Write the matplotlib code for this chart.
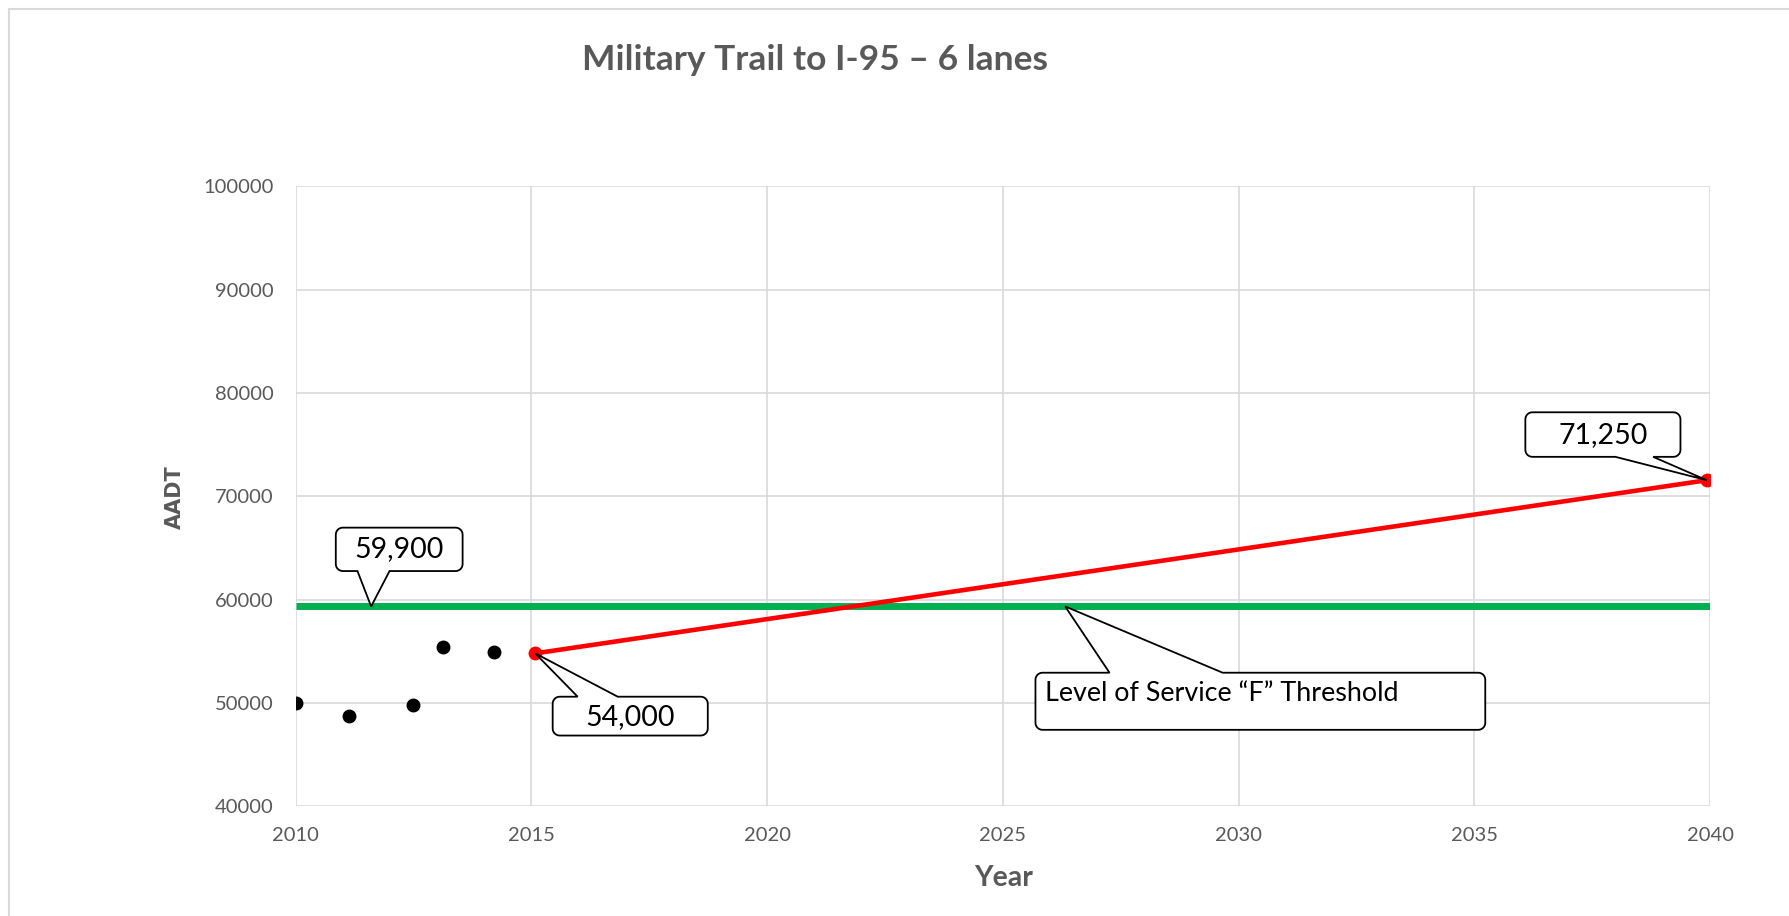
import numpy as np
import matplotlib
matplotlib.use('Agg')
import matplotlib.pyplot as plt
from matplotlib.path import Path
from matplotlib.patches import PathPatch, Rectangle

# Historic counts (black dots)
hist_years = [2010.0, 2011.14, 2012.49, 2013.12, 2014.21]
hist_aadt = [50000, 48700, 49800, 55450, 54900]

# Projection (red line)
proj_years = [2015.08, 2039.93]
proj_aadt = [54800, 71550]

# LOS "F" threshold (green line)
thresh_years = [2010, 2040]
thresh_aadt = [59340, 59340]

callout_text = ["59,900", "54,000", "71,250", "Level of Service \u201cF\u201d Threshold"]

GRAY = '#595959'
GRID = '#d9d9d9'
plt.rcParams['font.family'] = ['Lato', 'DejaVu Sans']

fig = plt.figure(figsize=(17.9, 9.16), dpi=100)
ax = fig.add_axes([0.1652, 0.1197, 0.9554 - 0.1652, 0.7968 - 0.1197])

ax.set_xlim(2010, 2040)
ax.set_ylim(40000, 100000)
ax.set_xticks(np.arange(2010, 2041, 5))
ax.set_yticks(np.arange(40000, 100001, 10000))
ax.grid(True, color=GRID, linewidth=1.2, zorder=0)
for s in ax.spines.values():
    s.set_visible(False)
ax.tick_params(length=0, labelsize=14.5, labelcolor=GRAY)
ax.tick_params(axis='y', pad=16)
ax.tick_params(axis='x', pad=15)

ax.plot(thresh_years, thresh_aadt, color='#00b050', linewidth=5, zorder=3, solid_capstyle='butt')
ax.plot(proj_years, proj_aadt, color='#ff0000', linewidth=3.3, marker='o', markersize=9, zorder=4)
ax.plot(hist_years, hist_aadt, linestyle='none', marker='o', color='black', markersize=9, zorder=4)


def callout(box, base, side, tip, r=7):
    # rounded box with a wedge pointer, built in pixels then mapped back to data
    T = ax.transData
    (x0, y0), (x1, y1) = T.transform([(box[0], box[1]), (box[2], box[3])])
    x0, x1 = sorted([x0, x1])
    y0, y1 = sorted([y0, y1])
    bx0 = T.transform((base[0], 0))[0]
    bx1 = T.transform((base[1], 0))[0]
    tp = T.transform(tip)

    def arc(cx, cy, a0, a1):
        t = np.radians(np.linspace(a0, a1, 8))
        return list(zip(cx + r * np.cos(t), cy + r * np.sin(t)))

    v = [(x0 + r, y0)]
    if side == 'bottom':
        v += [(bx0, y0), tuple(tp), (bx1, y0)]
    v += arc(x1 - r, y0 + r, -90, 0)
    v += arc(x1 - r, y1 - r, 0, 90)
    if side == 'top':
        v += [(bx1, y1), tuple(tp), (bx0, y1)]
    v += arc(x0 + r, y1 - r, 90, 180)
    v += arc(x0 + r, y0 + r, 180, 270)
    v.append(v[0])
    v = T.inverted().transform(np.array(v))
    codes = [Path.MOVETO] + [Path.LINETO] * (len(v) - 2) + [Path.CLOSEPOLY]
    ax.add_patch(PathPatch(Path(v, codes), facecolor='white', edgecolor='black',
                           linewidth=1.3, zorder=6, clip_on=False))


callout((2010.85, 62763, 2013.54, 66963), (2011.31, 2011.99), 'bottom',
        (2011.60, thresh_aadt[0]))
ax.text(2012.2, 64850, callout_text[0], ha='center', va='center', fontsize=20.5, zorder=7)

callout((2015.45, 46851, 2018.74, 50608), (2015.98, 2016.83), 'top',
        (proj_years[0], proj_aadt[0]))
ax.text(2017.1, 48650, callout_text[1], ha='center', va='center', fontsize=20.5, zorder=7)

callout((2036.08, 73812, 2039.37, 78122), (2037.99, 2038.79), 'bottom',
        (proj_years[1], proj_aadt[1]))
ax.text(2037.73, 75950, callout_text[2], ha='center', va='center', fontsize=20.5, zorder=7)

callout((2025.69, 47403, 2035.23, 52928), (2027.26, 2029.66), 'top',
        (2026.32, thresh_aadt[0]))
ax.text(2025.90, 50950, callout_text[3], ha='left', va='center', fontsize=19.4, zorder=7)

fig.text(0.4554, 0.935, "Military Trail to I-95 \u2013 6 lanes", ha='center', va='center',
         fontsize=25.5, fontweight='bold', color=GRAY)
fig.text(0.5606, 0.041, "Year", ha='center', va='center', fontsize=20.5,
         fontweight='bold', color=GRAY)
fig.text(0.0976, 0.4576, "AADT", ha='center', va='center', rotation=90, fontsize=15,
         fontweight='bold', color=GRAY, family='DejaVu Sans')

# chart-area frame
fig.patches.append(Rectangle((8 / 1568, -0.1), 2, 1 - 8 / 802 + 0.1, transform=fig.transFigure,
                             fill=False, edgecolor=GRID, linewidth=1.5))

fig.savefig('out.png', dpi=100)
